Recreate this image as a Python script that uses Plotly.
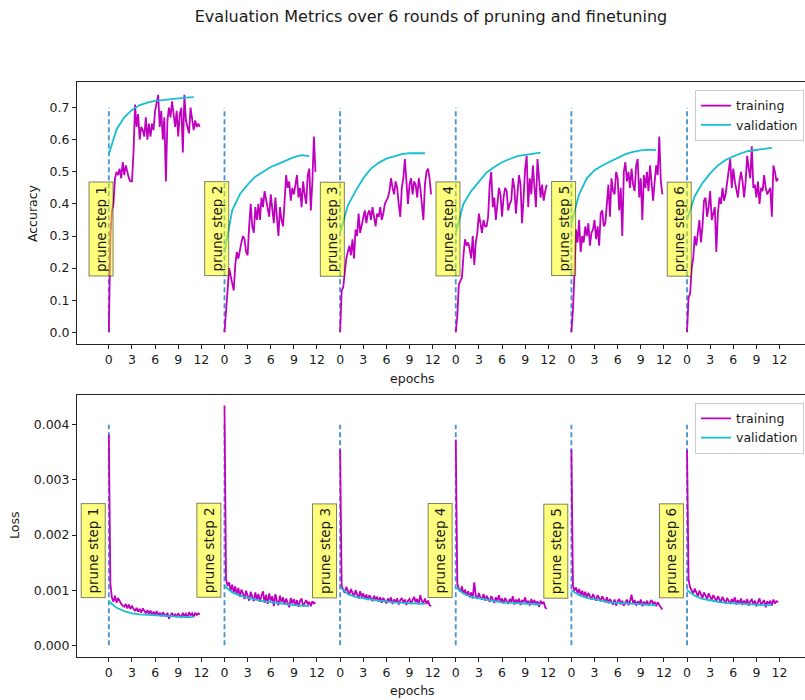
import plotly.graph_objects as go

# ---------------- data ----------------
n_rounds = 6
round_offset = 15          # epochs between consecutive prune rounds on the x axis
train_step = 0.2           # epochs between logged training points
tick_epochs = [0, 3, 6, 9, 12]
val_epochs = list(range(12))

train_acc_1 = [0.00, 0.30, 0.38, 0.40, 0.48, 0.50, 0.49, 0.51, 0.48, 0.53, 0.49, 0.52, 0.50, 0.48, 0.47,
               0.47, 0.56, 0.71, 0.64, 0.68, 0.60, 0.64, 0.63, 0.61, 0.67, 0.60, 0.65, 0.61, 0.65, 0.63,
               0.69, 0.71, 0.74, 0.64, 0.69, 0.60, 0.67, 0.47, 0.66, 0.70, 0.67, 0.72, 0.68, 0.64, 0.69,
               0.61, 0.68, 0.70, 0.56, 0.74, 0.66, 0.64, 0.62, 0.70, 0.67, 0.63, 0.66, 0.64, 0.65, 0.64]
train_acc_2 = [0.00, 0.08, 0.13, 0.20, 0.18, 0.15, 0.13, 0.21, 0.25, 0.23, 0.26, 0.28, 0.30, 0.29, 0.25,
               0.24, 0.33, 0.40, 0.33, 0.31, 0.39, 0.35, 0.40, 0.35, 0.42, 0.39, 0.44, 0.41, 0.38, 0.36,
               0.43, 0.38, 0.34, 0.42, 0.37, 0.30, 0.39, 0.35, 0.33, 0.42, 0.49, 0.45, 0.47, 0.41, 0.45,
               0.43, 0.46, 0.49, 0.42, 0.45, 0.39, 0.47, 0.43, 0.40, 0.49, 0.51, 0.38, 0.47, 0.61, 0.50]
train_acc_3 = [0.00, 0.13, 0.14, 0.18, 0.23, 0.25, 0.27, 0.24, 0.29, 0.23, 0.32, 0.30, 0.37, 0.31, 0.33,
               0.36, 0.38, 0.34, 0.37, 0.38, 0.35, 0.39, 0.36, 0.33, 0.37, 0.36, 0.39, 0.35, 0.37, 0.40,
               0.41, 0.42, 0.44, 0.48, 0.45, 0.43, 0.47, 0.45, 0.40, 0.36, 0.45, 0.48, 0.54, 0.45, 0.40,
               0.46, 0.48, 0.43, 0.47, 0.46, 0.42, 0.48, 0.45, 0.40, 0.35, 0.46, 0.50, 0.51, 0.48, 0.43]
train_acc_4 = [0.00, 0.05, 0.15, 0.16, 0.17, 0.24, 0.29, 0.27, 0.28, 0.26, 0.23, 0.30, 0.21, 0.28, 0.31,
               0.37, 0.34, 0.31, 0.35, 0.33, 0.33, 0.36, 0.46, 0.50, 0.39, 0.42, 0.35, 0.40, 0.45, 0.43,
               0.36, 0.42, 0.45, 0.44, 0.38, 0.40, 0.41, 0.48, 0.45, 0.37, 0.42, 0.49, 0.46, 0.34, 0.42,
               0.51, 0.55, 0.39, 0.48, 0.43, 0.52, 0.45, 0.39, 0.54, 0.48, 0.42, 0.46, 0.41, 0.44, 0.46]
train_acc_5 = [0.00, 0.07, 0.19, 0.32, 0.28, 0.35, 0.25, 0.30, 0.28, 0.33, 0.30, 0.34, 0.27, 0.31, 0.32,
               0.35, 0.29, 0.33, 0.27, 0.37, 0.38, 0.33, 0.34, 0.39, 0.46, 0.36, 0.48, 0.44, 0.43, 0.50,
               0.48, 0.38, 0.45, 0.30, 0.50, 0.53, 0.47, 0.50, 0.45, 0.51, 0.46, 0.44, 0.52, 0.54, 0.42,
               0.48, 0.35, 0.49, 0.45, 0.50, 0.44, 0.52, 0.47, 0.41, 0.47, 0.52, 0.49, 0.61, 0.47, 0.43]
train_acc_6 = [0.00, 0.11, 0.12, 0.20, 0.23, 0.30, 0.27, 0.31, 0.35, 0.28, 0.33, 0.41, 0.42, 0.36, 0.39,
               0.44, 0.35, 0.37, 0.39, 0.25, 0.37, 0.42, 0.40, 0.45, 0.41, 0.43, 0.47, 0.50, 0.54, 0.45,
               0.51, 0.47, 0.44, 0.42, 0.47, 0.50, 0.47, 0.42, 0.47, 0.55, 0.51, 0.48, 0.58, 0.45, 0.46,
               0.42, 0.47, 0.40, 0.45, 0.44, 0.49, 0.45, 0.43, 0.44, 0.45, 0.36, 0.52, 0.50, 0.47, 0.48]

val_acc_1 = [0.555, 0.632, 0.670, 0.693, 0.708, 0.716, 0.721, 0.724, 0.727, 0.729, 0.731, 0.733]
val_acc_2 = [0.250, 0.380, 0.430, 0.460, 0.485, 0.500, 0.515, 0.525, 0.535, 0.546, 0.552, 0.549]
val_acc_3 = [0.310, 0.395, 0.440, 0.480, 0.510, 0.528, 0.541, 0.549, 0.555, 0.558, 0.559, 0.558]
val_acc_4 = [0.310, 0.400, 0.440, 0.470, 0.498, 0.515, 0.530, 0.540, 0.549, 0.553, 0.556, 0.560]
val_acc_5 = [0.340, 0.430, 0.480, 0.505, 0.520, 0.532, 0.545, 0.555, 0.562, 0.567, 0.569, 0.568]
val_acc_6 = [0.350, 0.424, 0.465, 0.495, 0.520, 0.537, 0.548, 0.558, 0.565, 0.568, 0.572, 0.575]

train_loss_1 = [0.00382, 0.00112, 0.00086, 0.00079, 0.00090, 0.00077, 0.00086, 0.00080, 0.00075, 0.00072,
                0.00070, 0.00075, 0.00067, 0.00074, 0.00066, 0.00071, 0.00065, 0.00062, 0.00068, 0.00061,
                0.00066, 0.00059, 0.00067, 0.00061, 0.00058, 0.00064, 0.00057, 0.00063, 0.00056, 0.00061,
                0.00055, 0.00062, 0.00054, 0.00059, 0.00053, 0.00060, 0.00056, 0.00052, 0.00059, 0.00048,
                0.00055, 0.00058, 0.00052, 0.00057, 0.00051, 0.00058, 0.00054, 0.00050, 0.00059, 0.00053,
                0.00057, 0.00051, 0.00060, 0.00054, 0.00058, 0.00052, 0.00059, 0.00055, 0.00058, 0.00056]
train_loss_2 = [0.00435, 0.00120, 0.00108, 0.00114, 0.00099, 0.00110, 0.00095, 0.00107, 0.00092, 0.00104,
                0.00088, 0.00101, 0.00094, 0.00084, 0.00099, 0.00089, 0.00081, 0.00097, 0.00087, 0.00080,
                0.00096, 0.00083, 0.00093, 0.00079, 0.00090, 0.00098, 0.00077, 0.00092, 0.00075, 0.00094,
                0.00081, 0.00089, 0.00071, 0.00093, 0.00080, 0.00073, 0.00090, 0.00078, 0.00087, 0.00074,
                0.00085, 0.00077, 0.00069, 0.00086, 0.00076, 0.00084, 0.00072, 0.00082, 0.00070, 0.00080,
                0.00085, 0.00071, 0.00078, 0.00082, 0.00074, 0.00079, 0.00071, 0.00080, 0.00076, 0.00078]
train_loss_3 = [0.00355, 0.00108, 0.00101, 0.00095, 0.00106, 0.00098, 0.00091, 0.00102, 0.00094, 0.00088,
                0.00100, 0.00091, 0.00085, 0.00098, 0.00088, 0.00094, 0.00084, 0.00092, 0.00082, 0.00091,
                0.00085, 0.00080, 0.00090, 0.00083, 0.00088, 0.00079, 0.00087, 0.00077, 0.00086, 0.00081,
                0.00076, 0.00085, 0.00079, 0.00087, 0.00075, 0.00083, 0.00078, 0.00085, 0.00074, 0.00082,
                0.00086, 0.00077, 0.00083, 0.00073, 0.00081, 0.00084, 0.00075, 0.00082, 0.00088, 0.00078,
                0.00084, 0.00074, 0.00091, 0.00080, 0.00077, 0.00085, 0.00075, 0.00081, 0.00073, 0.00071]
train_loss_4 = [0.00373, 0.00112, 0.00102, 0.00097, 0.00107, 0.00093, 0.00101, 0.00090, 0.00098, 0.00087,
                0.00096, 0.00085, 0.00114, 0.00090, 0.00084, 0.00095, 0.00086, 0.00083, 0.00093, 0.00081,
                0.00090, 0.00085, 0.00079, 0.00089, 0.00083, 0.00077, 0.00087, 0.00081, 0.00091, 0.00078,
                0.00085, 0.00076, 0.00086, 0.00080, 0.00075, 0.00084, 0.00078, 0.00089, 0.00074, 0.00083,
                0.00077, 0.00085, 0.00073, 0.00082, 0.00078, 0.00087, 0.00075, 0.00081, 0.00072, 0.00084,
                0.00076, 0.00082, 0.00073, 0.00080, 0.00070, 0.00081, 0.00075, 0.00079, 0.00069, 0.00066]
train_loss_5 = [0.00355, 0.00108, 0.00099, 0.00105, 0.00094, 0.00102, 0.00091, 0.00099, 0.00089, 0.00097,
                0.00086, 0.00095, 0.00089, 0.00083, 0.00093, 0.00086, 0.00081, 0.00091, 0.00085, 0.00080,
                0.00089, 0.00083, 0.00078, 0.00087, 0.00076, 0.00084, 0.00079, 0.00074, 0.00083, 0.00072,
                0.00080, 0.00084, 0.00074, 0.00081, 0.00072, 0.00079, 0.00083, 0.00073, 0.00080, 0.00092,
                0.00075, 0.00082, 0.00072, 0.00080, 0.00074, 0.00083, 0.00071, 0.00079, 0.00073, 0.00081,
                0.00072, 0.00078, 0.00082, 0.00073, 0.00079, 0.00071, 0.00078, 0.00073, 0.00069, 0.00065]
train_loss_6 = [0.00354, 0.00118, 0.00105, 0.00099, 0.00094, 0.00103, 0.00095, 0.00089, 0.00099, 0.00091,
                0.00086, 0.00096, 0.00088, 0.00084, 0.00094, 0.00086, 0.00082, 0.00091, 0.00084, 0.00080,
                0.00089, 0.00082, 0.00078, 0.00088, 0.00080, 0.00076, 0.00086, 0.00079, 0.00075, 0.00084,
                0.00078, 0.00087, 0.00074, 0.00082, 0.00076, 0.00085, 0.00073, 0.00081, 0.00075, 0.00084,
                0.00072, 0.00080, 0.00083, 0.00074, 0.00081, 0.00071, 0.00080, 0.00085, 0.00073, 0.00079,
                0.00082, 0.00069, 0.00080, 0.00075, 0.00081, 0.00072, 0.00083, 0.00076, 0.00080, 0.00078]

val_loss_1 = [0.00080, 0.00068, 0.00062, 0.00058, 0.00056, 0.00055, 0.00054, 0.00053, 0.00052, 0.00052, 0.00051, 0.00051]
val_loss_2 = [0.00108, 0.00096, 0.00090, 0.00086, 0.00083, 0.00080, 0.00078, 0.00076, 0.00074, 0.00073, 0.00072, 0.00071]
val_loss_3 = [0.00105, 0.00093, 0.00088, 0.00085, 0.00083, 0.00081, 0.00079, 0.00078, 0.00077, 0.00076, 0.00075, 0.00075]
val_loss_4 = [0.00105, 0.00094, 0.00088, 0.00085, 0.00082, 0.00080, 0.00078, 0.00077, 0.00076, 0.00075, 0.00074, 0.00074]
val_loss_5 = [0.00100, 0.00091, 0.00086, 0.00083, 0.00080, 0.00078, 0.00077, 0.00076, 0.00075, 0.00074, 0.00073, 0.00073]
val_loss_6 = [0.00100, 0.00090, 0.00084, 0.00081, 0.00079, 0.00077, 0.00076, 0.00075, 0.00074, 0.00073, 0.00073, 0.00073]

train_acc = [train_acc_1, train_acc_2, train_acc_3, train_acc_4, train_acc_5, train_acc_6]
val_acc = [val_acc_1, val_acc_2, val_acc_3, val_acc_4, val_acc_5, val_acc_6]
train_loss = [train_loss_1, train_loss_2, train_loss_3, train_loss_4, train_loss_5, train_loss_6]
val_loss = [val_loss_1, val_loss_2, val_loss_3, val_loss_4, val_loss_5, val_loss_6]

acc_ticks = [0.0, 0.1, 0.2, 0.3, 0.4, 0.5, 0.6, 0.7]
loss_ticks = [0.0, 0.001, 0.002, 0.003, 0.004]
vline_top = {"acc": 0.7, "loss": 0.004}

# ---------------- styling ----------------
FONT = "DejaVu Sans"
C_TRAIN = "#bf00bf"
C_VAL = "#17becf"
C_VLINE = "#4592cc"
TXT = "#1a1a1a"
FS = 12.5

fig = go.Figure()


def series(seg_lists, step, offset):
    xs, ys = [], []
    for k, seg in enumerate(seg_lists):
        for i, v in enumerate(seg):
            xs.append(k * offset + i * step)
            ys.append(v)
        xs.append(None)
        ys.append(None)
    return xs, ys


def val_series(seg_lists, offset):
    xs, ys = [], []
    for k, seg in enumerate(seg_lists):
        for e, v in zip(val_epochs, seg):
            xs.append(k * offset + e)
            ys.append(v)
        xs.append(None)
        ys.append(None)
    return xs, ys


for row, (tr, va, top, xa, ya, leg) in enumerate([
        (train_acc, val_acc, vline_top["acc"], "x", "y", "legend"),
        (train_loss, val_loss, vline_top["loss"], "x2", "y2", "legend2")]):
    vx, vy = [], []
    for k in range(n_rounds):
        vx += [k * round_offset, k * round_offset, None]
        vy += [0, top, None]
    fig.add_trace(go.Scatter(x=vx, y=vy, mode="lines", xaxis=xa, yaxis=ya,
                             line=dict(color=C_VLINE, width=1.8, dash="5px,3px"),
                             showlegend=False, hoverinfo="skip"))
    tx, ty = series(tr, train_step, round_offset)
    fig.add_trace(go.Scatter(x=tx, y=ty, mode="lines", name="training", xaxis=xa, yaxis=ya,
                             line=dict(color=C_TRAIN, width=1.8), legend=leg))
    wx, wy = val_series(va, round_offset)
    fig.add_trace(go.Scatter(x=wx, y=wy, mode="lines", name="validation", xaxis=xa, yaxis=ya,
                             line=dict(color=C_VAL, width=1.8), legend=leg))

tickvals = [k * round_offset + t for k in range(n_rounds) for t in tick_epochs]
ticktext = [str(t) for k in range(n_rounds) for t in tick_epochs]

xcommon = dict(range=[-4.13, 90.3], tickvals=tickvals, ticktext=ticktext, showgrid=False,
               zeroline=False, showline=True, linecolor="#222", linewidth=1, mirror=True,
               ticks="outside", ticklen=4, tickcolor="#222", tickwidth=1,
               tickfont=dict(family=FONT, size=FS, color=TXT))
ycommon = dict(showgrid=False, zeroline=False, showline=True, linecolor="#222", linewidth=1,
               mirror=False, ticks="outside", ticklen=4, tickcolor="#222", tickwidth=1,
               tickfont=dict(family=FONT, size=FS, color=TXT))

top_dom = [0.5443, 1.0]
bot_dom = [0.0, 0.4557]

fig.update_layout(
    width=805, height=700,
    margin=dict(l=77, r=0, t=82, b=43),
    paper_bgcolor="white", plot_bgcolor="white",
    font=dict(family=FONT, size=FS, color=TXT),
    xaxis=dict(xcommon, anchor="y", domain=[0, 1]),
    yaxis=dict(ycommon, anchor="x", domain=top_dom, range=[-0.0366, 0.78],
               tickvals=acc_ticks, tickformat=".1f"),
    xaxis2=dict(xcommon, anchor="y2", domain=[0, 1]),
    yaxis2=dict(ycommon, anchor="x2", domain=bot_dom, range=[-0.000212, 0.00454],
                tickvals=loss_ticks, tickformat=".3f"),
    title=dict(text="Evaluation Metrics over 6 rounds of pruning and finetuning",
               xref="container", yref="container", x=0.5354, y=0.977,
               xanchor="center", yanchor="middle",
               font=dict(family=FONT, size=16, color=TXT)),
    legend=dict(x=0.9986, y=0.9861, xanchor="right", yanchor="top",
                bgcolor="rgba(255,255,255,0.8)", bordercolor="#cccccc", borderwidth=1,
                font=dict(family=FONT, size=FS, color=TXT), tracegroupgap=0),
    legend2=dict(x=0.9986, y=0.4423, xanchor="right", yanchor="top",
                 bgcolor="rgba(255,255,255,0.8)", bordercolor="#cccccc", borderwidth=1,
                 font=dict(family=FONT, size=FS, color=TXT), tracegroupgap=0),
)

BOX_FS = 13.5
annotations = []
for k in range(n_rounds):
    annotations.append(dict(x=k * round_offset - 0.95, y=0.322, xref="x", yref="y",
                            text=f"prune step {k + 1}", textangle=-90, showarrow=False,
                            xanchor="center", yanchor="middle",
                            bgcolor="rgba(255,255,0,0.5)", bordercolor="rgba(0,0,0,0.5)",
                            borderwidth=1, borderpad=3.5,
                            font=dict(family=FONT, size=BOX_FS, color=TXT)))
    annotations.append(dict(x=k * round_offset - 2.0, y=0.001716, xref="x2", yref="y2",
                            text=f"prune step {k + 1}", textangle=-90, showarrow=False,
                            xanchor="center", yanchor="middle",
                            bgcolor="rgba(255,255,0,0.5)", bordercolor="rgba(0,0,0,0.5)",
                            borderwidth=1, borderpad=3.5,
                            font=dict(family=FONT, size=BOX_FS, color=TXT)))

annotations += [
    dict(text="Accuracy", x=-0.0618, y=0.772, xref="paper", yref="paper", textangle=-90,
         showarrow=False, xanchor="center", yanchor="middle",
         font=dict(family=FONT, size=FS, color=TXT)),
    dict(text="Loss", x=(15 - 77) / 728, y=0.228, xref="paper", yref="paper", textangle=-90,
         showarrow=False, xanchor="center", yanchor="middle",
         font=dict(family=FONT, size=FS, color=TXT)),
    dict(text="epochs", x=0.4615, y=(657 - 378) / 575, xref="paper", yref="paper",
         showarrow=False, xanchor="center", yanchor="middle",
         font=dict(family=FONT, size=FS, color=TXT)),
    dict(text="epochs", x=0.4615, y=(657 - 690) / 575, xref="paper", yref="paper",
         showarrow=False, xanchor="center", yanchor="middle",
         font=dict(family=FONT, size=FS, color=TXT)),
]
fig.update_layout(annotations=annotations)

fig.write_html("out.html")
